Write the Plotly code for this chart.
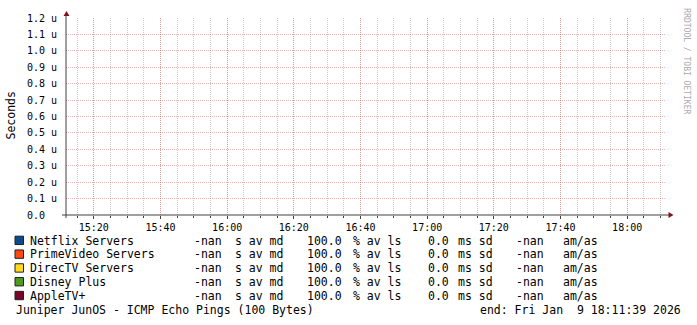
import plotly.graph_objects as go

# ---- data -------------------------------------------------------------
times = ["2026-01-09 15:11:39", "2026-01-09 18:11:39"]
series_names = ["Netflix Servers", "PrimeVideo Servers", "DirecTV Servers",
                "Disney Plus", "AppleTV+"]
series_colors = ["#0B4A8B", "#FF4A14", "#FFDD1E", "#4E9A1C", "#78062A"]
netflix = [None, None]
primevideo = [None, None]
directv = [None, None]
disney = [None, None]
appletv = [None, None]
series_values = [netflix, primevideo, directv, disney, appletv]

# legend statistics (as printed)
stat_avg = ["-nan", "-nan", "-nan", "-nan", "-nan"]
stat_loss = ["100.0", "100.0", "100.0", "100.0", "100.0"]
stat_sd = ["0.0", "0.0", "0.0", "0.0", "0.0"]
stat_amas = ["-nan", "-nan", "-nan", "-nan", "-nan"]

y_tickvals = [0.0, 0.1e-6, 0.2e-6, 0.3e-6, 0.4e-6, 0.5e-6, 0.6e-6,
              0.7e-6, 0.8e-6, 0.9e-6, 1.0e-6, 1.1e-6, 1.2e-6]
y_ticktext = ["0.0\u00a0\u00a0", "0.1 u", "0.2 u", "0.3 u", "0.4 u", "0.5 u",
              "0.6 u", "0.7 u", "0.8 u", "0.9 u", "1.0 u", "1.1 u", "1.2 u"]
x_tickvals = ["2026-01-09 15:20", "2026-01-09 15:40", "2026-01-09 16:00",
              "2026-01-09 16:20", "2026-01-09 16:40", "2026-01-09 17:00",
              "2026-01-09 17:20", "2026-01-09 17:40", "2026-01-09 18:00"]
x_ticktext = ["15:20", "15:40", "16:00", "16:20", "16:40", "17:00",
              "17:20", "17:40", "18:00"]

title_left = "Juniper JunOS - ICMP Echo Pings (100 Bytes)"
title_right = "end: Fri Jan\u00a0\u00a09 18:11:39 2026"
y_unit = "Seconds"
watermark = "RRDTOOL / TOBI OETIKER"

# ---- layout geometry ---------------------------------------------------
W, H = 697, 325
L, R, T, B = 66, 31, 15, 110
PW, PH = W - L - R, H - T - B


def px(x):
    return (x - L) / PW


def py(y):
    return (T + PH - y) / PH


MONO = "DejaVu Sans Mono"
MGRID = "rgba(225,90,90,0.45)"
GRID = "rgba(140,140,140,0.45)"
AXIS = "#404040"
ARROW = "#7F1414"

fig = go.Figure()
for name, vals, col in zip(series_names, series_values, series_colors):
    fig.add_trace(go.Scatter(x=times, y=vals, mode="lines", name=name,
                             line=dict(color=col, width=1), showlegend=False,
                             connectgaps=False))

fig.update_layout(
    width=W, height=H,
    margin=dict(l=L, r=R, t=T, b=B, pad=0),
    paper_bgcolor="white", plot_bgcolor="white",
    font=dict(family=MONO, size=10, color="black"),
    xaxis=dict(
        type="date", range=[times[0], times[-1]],
        tickvals=x_tickvals, ticktext=x_ticktext,
        tickfont=dict(family=MONO, size=10),
        showgrid=True, gridcolor=MGRID, gridwidth=1, griddash="1px,1px",
        minor=dict(dtick=300000, tick0="2026-01-09 15:00:00", showgrid=True,
                   gridcolor=GRID, gridwidth=1, griddash="1px,1px",
                   ticks="outside", ticklen=2, tickcolor=AXIS),
        ticks="outside", ticklen=3, tickcolor=AXIS,
        showline=False, zeroline=False, fixedrange=True,
    ),
    yaxis=dict(
        range=[0, 1.2e-6], tickvals=y_tickvals, ticktext=y_ticktext,
        tickfont=dict(family=MONO, size=10),
        showgrid=True, gridcolor=MGRID, gridwidth=1, griddash="1px,1px",
        ticks="outside", ticklen=6, tickcolor="rgba(0,0,0,0)",
        showline=False, zeroline=False, fixedrange=True,
    ),
)

shapes = []
# axis lines
shapes.append(dict(type="line", xref="paper", yref="paper",
                   x0=px(62), x1=px(669), y0=0, y1=0,
                   line=dict(color=AXIS, width=1)))
shapes.append(dict(type="line", xref="paper", yref="paper",
                   x0=0, x1=0, y0=py(218), y1=py(11),
                   line=dict(color=AXIS, width=1)))
# arrows
shapes.append(dict(type="path", xref="paper", yref="paper",
                   path=f"M {px(66.5)} {py(8)} L {px(63.5)} {py(13)} L {px(69.5)} {py(13)} Z",
                   fillcolor=ARROW, line=dict(color=ARROW, width=0)))
shapes.append(dict(type="path", xref="paper", yref="paper",
                   path=f"M {px(673.5)} {py(215)} L {px(668.5)} {py(212)} L {px(668.5)} {py(218)} Z",
                   fillcolor=ARROW, line=dict(color=ARROW, width=0)))

annotations = []


def txt(x, y, s, size=11.5, anchor="left", color="black", angle=0):
    annotations.append(dict(xref="paper", yref="paper", x=px(x), y=py(y),
                            text=s, showarrow=False, xanchor=anchor,
                            yanchor="middle", textangle=angle, borderpad=0,
                            borderwidth=0,
                            font=dict(family=MONO, size=size, color=color)))


row_y = [241, 255, 269, 283, 297]
for i, name in enumerate(series_names):
    yy = row_y[i]
    shapes.append(dict(type="rect", xref="paper", yref="paper",
                       x0=px(15), x1=px(23.5), y0=py(yy - 4.5), y1=py(yy + 4),
                       fillcolor=series_colors[i],
                       line=dict(color="#202020", width=1)))
    txt(30, yy, name)
    txt(194, yy, stat_avg[i])
    txt(235, yy, "s av md")
    txt(307, yy, stat_loss[i])
    txt(353, yy, "% av ls")
    txt(428, yy, stat_sd[i])
    txt(458, yy, "ms sd")
    txt(516, yy, stat_amas[i])
    txt(563, yy, "am/as")

txt(16, 311, title_left)
txt(681, 311, title_right, anchor="right")
txt(11, 114, y_unit, angle=-90, anchor="center")
txt(687, 59, watermark, size=8, color="#AAAAAA", angle=90, anchor="center")

fig.update_layout(shapes=shapes, annotations=annotations)
fig.write_html("out.html")
